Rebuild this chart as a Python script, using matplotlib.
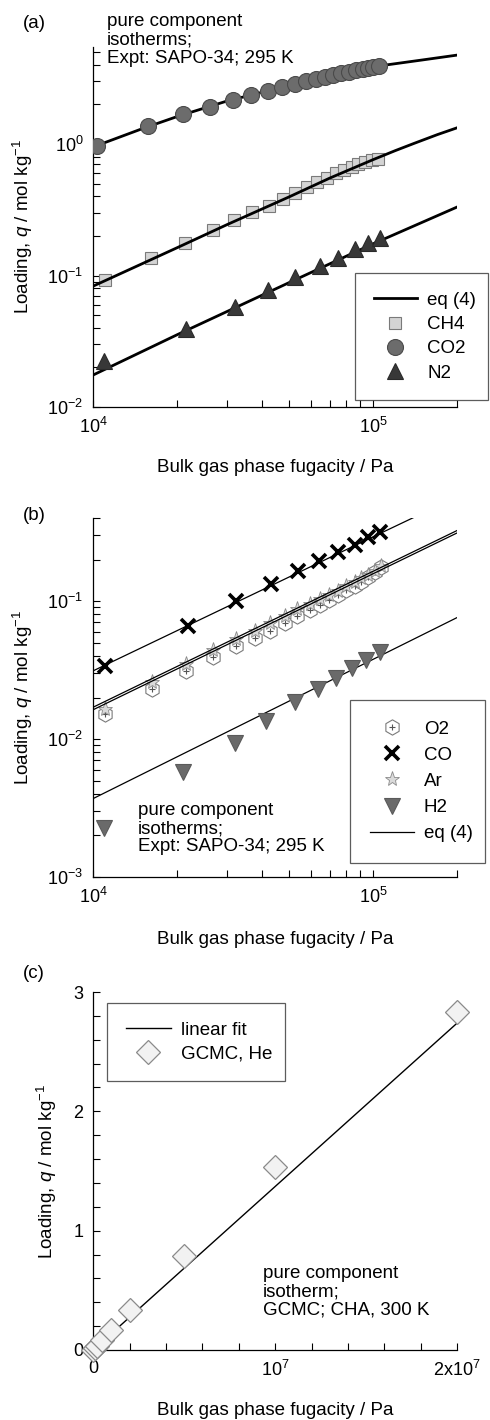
import matplotlib
matplotlib.use('Agg')
import numpy as np
import matplotlib.pyplot as plt
from matplotlib.ticker import LogLocator, NullFormatter, MultipleLocator, FixedLocator, FixedFormatter
from matplotlib.legend_handler import HandlerTuple

plt.rcParams['font.family'] = ['Liberation Sans', 'DejaVu Sans']
plt.rcParams['mathtext.fontset'] = 'custom'
plt.rcParams['mathtext.rm'] = 'Liberation Sans'
plt.rcParams['mathtext.it'] = 'Liberation Sans:italic'
plt.rcParams['mathtext.default'] = 'regular'
plt.rcParams['axes.unicode_minus'] = False

# ---- panel (a): CO2, CH4, N2 in SAPO-34 ----
co2_p = [1.03e4, 1.57e4, 2.10e4, 2.62e4, 3.16e4, 3.67e4, 4.22e4, 4.74e4, 5.25e4, 5.75e4,
         6.24e4, 6.72e4, 7.20e4, 7.70e4, 8.20e4, 8.70e4, 9.20e4, 9.60e4, 1.00e5, 1.05e5]
co2_q = [0.97, 1.37, 1.69, 1.93, 2.17, 2.38, 2.55, 2.70, 2.86, 3.02,
         3.13, 3.26, 3.35, 3.45, 3.55, 3.66, 3.72, 3.81, 3.88, 3.93]
co2_fit_p = [1e4, 1.5e4, 2e4, 3e4, 4e4, 5e4, 7e4, 1e5, 1.5e5, 2e5]
co2_fit_q = [0.95, 1.31, 1.62, 2.12, 2.47, 2.76, 3.25, 3.87, 4.36, 4.75]

ch4_p = [1.10e4, 1.61e4, 2.13e4, 2.68e4, 3.20e4, 3.70e4, 4.25e4, 4.77e4, 5.26e4, 5.81e4,
         6.31e4, 6.85e4, 7.38e4, 7.87e4, 8.41e4, 8.84e4, 9.36e4, 9.90e4, 1.04e5]
ch4_q = [0.092, 0.135, 0.177, 0.222, 0.264, 0.302, 0.338, 0.380, 0.424, 0.468,
         0.512, 0.551, 0.598, 0.634, 0.668, 0.705, 0.730, 0.756, 0.775]
ch4_fit_p = [1e4, 2e4, 3e4, 5e4, 7e4, 1e5, 1.2e5, 1.4e5, 1.7e5, 2e5]
ch4_fit_q = [0.083, 0.163, 0.243, 0.395, 0.55, 0.76, 0.89, 1.01, 1.18, 1.33]

n2_p = [1.09e4, 2.15e4, 3.21e4, 4.22e4, 5.26e4, 6.47e4, 7.50e4, 8.63e4, 9.60e4, 1.06e5]
n2_q = [0.0225, 0.0395, 0.0577, 0.0775, 0.097, 0.118, 0.137, 0.158, 0.178, 0.192]
n2_fit_p = [1e4, 2e4, 5e4, 1e5, 2e5]
n2_fit_q = [0.0175, 0.0355, 0.088, 0.174, 0.332]

# ---- panel (b): O2, CO, Ar, H2 ----
o2_p = [1.10e4, 1.62e4, 2.15e4, 2.68e4, 3.23e4, 3.79e4, 4.30e4, 4.84e4, 5.36e4, 5.95e4,
        6.45e4, 6.99e4, 7.48e4, 8.00e4, 8.60e4, 9.10e4, 9.60e4, 1.02e5, 1.07e5]
o2_q = [0.0151, 0.0230, 0.031, 0.039, 0.0475, 0.054, 0.061, 0.069, 0.078, 0.086,
        0.094, 0.102, 0.111, 0.120, 0.129, 0.138, 0.150, 0.162, 0.177]
ar_p = o2_p
ar_q = [0.0165, 0.026, 0.035, 0.044, 0.053, 0.061, 0.069, 0.078, 0.087, 0.095,
        0.103, 0.111, 0.119, 0.128, 0.137, 0.146, 0.155, 0.165, 0.180]
o2_fit_p = [1e4, 2e5]
o2_fit_q = [0.0163, 0.312]
ar_fit_p = [1e4, 2e5]
ar_fit_q = [0.0170, 0.325]

co_p = [1.10e4, 2.18e4, 3.23e4, 4.33e4, 5.40e4, 6.42e4, 7.50e4, 8.60e4, 9.60e4, 1.06e5]
co_q = [0.034, 0.0665, 0.100, 0.134, 0.164, 0.195, 0.227, 0.257, 0.293, 0.315]
co_fit_p = [1e4, 1e5, 2e5]
co_fit_q = [0.0312, 0.292, 0.57]

h2_p = [1.09e4, 2.10e4, 3.21e4, 4.16e4, 5.25e4, 6.37e4, 7.40e4, 8.44e4, 9.46e4, 1.06e5]
h2_q = [0.00225, 0.0058, 0.0094, 0.0135, 0.0184, 0.023, 0.0279, 0.0325, 0.0374, 0.0425]
h2_fit_p = [1e4, 2e5]
h2_fit_q = [0.0037, 0.076]

# ---- panel (c): He, GCMC in CHA ----
he_p = [1e4, 1e5, 2e5, 5e5, 1e6, 2e6, 5e6, 1e7, 2e7]
he_q = [0.0015, 0.015, 0.03, 0.084, 0.168, 0.335, 0.79, 1.53, 2.83]
he_fit_p = [0, 2e7]
he_fit_q = [0, 2.74]
c_xticks = [0, 1e7, 2e7]
c_xticklabels = ['0', '$10^{7}$', '2x$10^{7}$']

FS = 13.5
TFS = 13
xlab = 'Bulk gas phase fugacity / Pa'
ylab = 'Loading, $\\mathit{q}$ / mol kg$^{-1}$'

fig = plt.figure(figsize=(4.9, 14.2), dpi=100)


def style_axes(ax):
    ax.spines['top'].set_visible(False)
    ax.spines['right'].set_visible(False)
    for s in ['left', 'bottom']:
        ax.spines[s].set_linewidth(0.9)
    ax.tick_params(which='both', direction='in', length=5, width=0.8,
                   labelsize=TFS, pad=7, top=False, right=False)


def log_axes(ax):
    ax.set_xscale('log')
    ax.set_yscale('log')
    for axis in [ax.xaxis, ax.yaxis]:
        axis.set_major_locator(LogLocator(base=10))
        axis.set_minor_locator(LogLocator(base=10, subs=np.arange(2, 10)))
        axis.set_minor_formatter(NullFormatter())


def frame(leg):
    leg.get_frame().set_edgecolor('#333333')
    leg.get_frame().set_linewidth(0.9)


# (a)
ax1 = fig.add_axes([0.190, 0.7134, 0.743, 0.2537])
log_axes(ax1)
style_axes(ax1)
fit_line, = ax1.plot(co2_fit_p, co2_fit_q, color='black', lw=2.0, zorder=2)
ax1.plot(n2_fit_p, n2_fit_q, color='black', lw=2.0, zorder=2)
ch4_pts, = ax1.plot(ch4_p, ch4_q, 's', ms=9, mfc='#d4d4d4', mec='#7a7a7a', mew=0.8, zorder=3)
ax1.plot(ch4_fit_p, ch4_fit_q, color='black', lw=2.0, zorder=4)
co2_pts, = ax1.plot(co2_p, co2_q, 'o', ms=11.5, mfc='#6c6c6c', mec='#4a4a4a', mew=0.8, zorder=3)
n2_pts, = ax1.plot(n2_p, n2_q, '^', ms=11, mfc='#383838', mec='#2a2a2a', mew=0.8, zorder=3)
ax1.set_xlim(1e4, 2e5)
ax1.set_ylim(1e-2, 5.5)
ax1.set_xlabel(xlab, fontsize=FS, va='center')
ax1.xaxis.set_label_coords(0.5, -0.169)
ax1.set_ylabel(ylab, fontsize=FS, va='center')
ax1.yaxis.set_label_coords(-0.192, 0.5)
leg = ax1.legend([fit_line, ch4_pts, co2_pts, n2_pts], ['eq (4)', 'CH4', 'CO2', 'N2'],
                 loc='upper left', bbox_to_anchor=(0.7245, 0.8077 - 0.088, 0.2714, 0.088),
                 bbox_transform=fig.transFigure, mode='expand', borderaxespad=0,
                 fontsize=FS, frameon=True, fancybox=False, handlelength=2.3,
                 handletextpad=0.55, labelspacing=0.38, borderpad=1.0)
frame(leg)
fig.text(23 / 490, 1 - 23 / 1420, '(a)', fontsize=FS, va='center')
fig.text(107 / 490, 1 - 13 / 1420, 'pure component\nisotherms;\nExpt: SAPO-34; 295 K',
         fontsize=FS, va='top', ha='left', linespacing=1.1)

# (b)
ax2 = fig.add_axes([0.190, 0.3824, 0.743, 0.2528])
log_axes(ax2)
style_axes(ax2)
o2_hex, = ax2.plot(o2_p, o2_q, 'h', ms=11, mfc='white', mec='#7a7a7a', mew=0.8, zorder=3)
o2_plus, = ax2.plot(o2_p, o2_q, '+', ms=5, mec='#555555', mew=0.8, zorder=3)
ar_pts, = ax2.plot(ar_p, ar_q, '*', ms=11, mfc='#dadada', mec='#8a8a8a', mew=0.6, zorder=3)
ax2.plot(o2_fit_p, o2_fit_q, color='black', lw=0.9, zorder=4)
ax2.plot(ar_fit_p, ar_fit_q, color='black', lw=0.9, zorder=4)
ax2.plot(co_fit_p, co_fit_q, color='black', lw=0.9, zorder=2)
eq_line, = ax2.plot(h2_fit_p, h2_fit_q, color='black', lw=0.9, zorder=2)
co_pts, = ax2.plot(co_p, co_q, 'x', ms=10, mec='black', mew=2.6, zorder=3)
h2_pts, = ax2.plot(h2_p, h2_q, 'v', ms=12, mfc='#6a6a6a', mec='#5a5a5a', mew=0.8, zorder=3)
ax2.set_xlim(1e4, 2e5)
ax2.set_ylim(1e-3, 0.4)
ax2.set_xlabel(xlab, fontsize=FS, va='center')
ax2.xaxis.set_label_coords(0.5, -0.175)
ax2.set_ylabel(ylab, fontsize=FS, va='center')
ax2.yaxis.set_label_coords(-0.192, 0.5)
leg2 = ax2.legend([(o2_hex, o2_plus), co_pts, ar_pts, h2_pts, eq_line],
                  ['O2', 'CO', 'Ar', 'H2', 'eq (4)'],
                  handler_map={tuple: HandlerTuple(ndivide=1)},
                  loc='upper left', bbox_to_anchor=(0.714, 0.507 - 0.111, 0.2755, 0.111),
                  bbox_transform=fig.transFigure, mode='expand', borderaxespad=0,
                  fontsize=FS, frameon=True, fancybox=False, handlelength=2.3,
                  handletextpad=0.55, labelspacing=0.48, borderpad=1.1)
frame(leg2)
fig.text(23 / 490, 1 - 515 / 1420, '(b)', fontsize=FS, va='center')
fig.text(138 / 490, 1 - 802 / 1420, 'pure component\nisotherms;\nExpt: SAPO-34; 295 K',
         fontsize=FS, va='top', ha='left', linespacing=1.08)

# (c)
ax3 = fig.add_axes([0.190, 0.0493, 0.743, 0.2521])
style_axes(ax3)
lin_line, = ax3.plot(he_fit_p, he_fit_q, color='black', lw=1.0, zorder=2)
he_pts, = ax3.plot(he_p, he_q, 'D', ms=12.5, mfc='#f2f2f2', mec='#8a8a8a', mew=0.9,
                   zorder=3, clip_on=False)
ax3.set_xlim(0, 2e7)
ax3.set_ylim(0, 3)
ax3.xaxis.set_major_locator(FixedLocator(c_xticks))
ax3.xaxis.set_major_formatter(FixedFormatter(c_xticklabels))
ax3.xaxis.set_minor_locator(MultipleLocator(2e6))
ax3.yaxis.set_major_locator(MultipleLocator(1))
ax3.yaxis.set_minor_locator(MultipleLocator(0.2))
ax3.set_xlabel(xlab, fontsize=FS, va='center')
ax3.xaxis.set_label_coords(0.5, -0.168)
ax3.set_ylabel(ylab, fontsize=FS, va='center')
ax3.yaxis.set_label_coords(-0.126, 0.5)
leg3 = ax3.legend([lin_line, he_pts], ['linear fit', 'GCMC, He'],
                  loc='upper left', bbox_to_anchor=(0.218, 0.2937 - 0.053, 0.363, 0.053),
                  bbox_transform=fig.transFigure, mode='expand', borderaxespad=0,
                  fontsize=FS, frameon=True, fancybox=False, handlelength=2.4,
                  handletextpad=0.55, labelspacing=0.35, borderpad=1.0)
frame(leg3)
fig.text(23 / 490, 1 - 973 / 1420, '(c)', fontsize=FS, va='center')
fig.text(263 / 490, 1 - 1265 / 1420, 'pure component\nisotherm;\nGCMC; CHA, 300 K',
         fontsize=FS, va='top', ha='left', linespacing=1.1)

fig.savefig('out.png', dpi=100)
